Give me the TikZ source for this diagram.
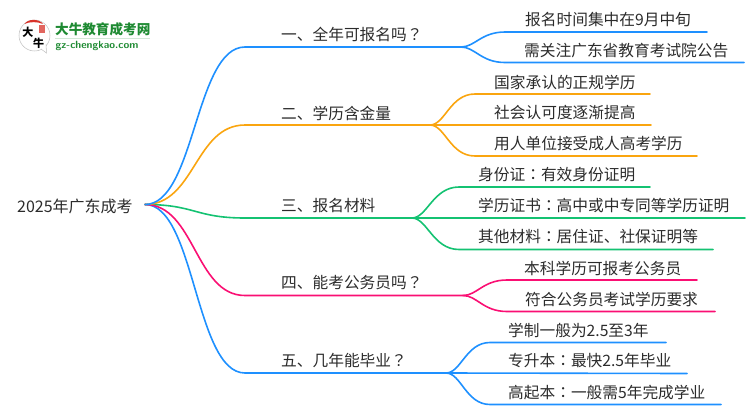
\documentclass[tikz,border=0pt]{standalone}
\usepackage{fontspec}
\setmainfont{Noto Sans CJK SC}
\newfontfamily\punctfont{Noto Sans CJK TC}
\usetikzlibrary{positioning}
\definecolor{mapblue}{HTML}{1E90FF}
\definecolor{maporange}{HTML}{FAA50F}
\definecolor{mapgreen}{HTML}{14C272}
\definecolor{mappink}{HTML}{FA0F73}
\definecolor{maptext}{HTML}{2B2B2B}
\definecolor{logogreen}{HTML}{1E8A32}
\definecolor{logored}{HTML}{D8332A}
% centred full-width marks
\newcommand{\cq}{{\punctfont ？}}
\newcommand{\cc}{{\punctfont ：}}

\begin{document}
\begin{tikzpicture}[
    x=1pt, y=-1pt,
    % Styles
    maptitle/.style={font=\fontsize{15.7pt}{18pt}\selectfont, text=maptext, inner sep=0pt, anchor=west},
    branchlabel/.style={maptitle},
    leaflabel/.style={maptitle},
    logochar/.style={inner sep=0pt, font=\fontsize{11pt}{11pt}\selectfont\bfseries},
    wire/.style={line width=1.6pt, line cap=round},
    bluewire/.style={wire, draw=mapblue},
    orangewire/.style={wire, draw=maporange},
    greenwire/.style={wire, draw=mapgreen},
    pinkwire/.style={wire, draw=mappink},
]
    \useasboundingbox (0,0) rectangle (750,410);

    % Logo
    \fill[white, draw=black!25, line width=0.5pt] (34.5,35.5) circle (15.5);
    \fill[white, draw=black!25, line width=0.5pt] (41,49) -- (46.5,53) -- (46,44);
    \fill[white] (40,47.5) -- (45,48) -- (45,44) -- cycle;
    \fill[logored] (24.5,24) .. controls (28,18.5) and (39,18.5) .. (43,24) .. controls (38,21.5) and (29,21.5) .. (24.5,24) -- cycle;
    \fill[logored!75] (38.5,25) rectangle (44.5,33);
    \node[logochar] (logoda) at (27.8,31.8) {大};
    \node[logochar] (logoniu) at (38.7,43.2) {牛};
    \node[inner sep=0pt, anchor=west, text=logogreen, font=\fontsize{13.6pt}{14pt}\selectfont\bfseries] (logotitle) at (55,29.5) {大牛教育成考网};
    \fill[logogreen!20] (55,38) rectangle (150,39);
    \node[inner sep=0pt, anchor=west, text=logogreen, font=\fontsize{10.5pt}{12pt}\selectfont\sffamily\bfseries] (logourl) at (55.5,45.5) {gz-chengkao.com};

    % Root
    \node[maptitle, font=\fontsize{16pt}{18pt}\selectfont] (root) at (17,206) {2025年广东成考};
    \coordinate (rootout) at (145,204.5);

    % Branch labels
    \node[branchlabel] (one) at (281,34) {一、全年可报名吗\cq};
    \node[branchlabel] (two) at (281,113) {二、学历含金量};
    \node[branchlabel] (three) at (281,206) {三、报名材料};
    \node[branchlabel] (four) at (281,283) {四、能考公务员吗\cq};
    \node[branchlabel] (five) at (281,361) {五、几年能毕业\cq};

    % Branch corners and forks
    \coordinate (onebend) at (245,47);
    \coordinate (onefork) at (461,47);
    \coordinate (twobend) at (245,125);
    \coordinate (twofork) at (430,125);
    \coordinate (threebend) at (245,218);
    \coordinate (threefork) at (412,218);
    \coordinate (fourbend) at (245,295.5);
    \coordinate (fourfork) at (463,295.5);
    \coordinate (fivebend) at (245,373);
    \coordinate (fivefork) at (446,373);

    % Leaf labels
    \node[leaflabel] (onea) at (525,20) {报名时间集中在9月中旬};
    \node[leaflabel] (oneb) at (524,51) {需关注广东省教育考试院公告};
    \node[leaflabel] (twoa) at (494,82) {国家承认的正规学历};
    \node[leaflabel] (twob) at (494,113) {社会认可度逐渐提高};
    \node[leaflabel] (twoc) at (494,144) {用人单位接受成人高考学历};
    \node[leaflabel] (threea) at (478,175) {身份证\cc 有效身份证明};
    \node[leaflabel] (threeb) at (478,206) {学历证书\cc 高中或中专同等学历证明};
    \node[leaflabel] (threec) at (478,237) {其他材料\cc 居住证、社保证明等};
    \node[leaflabel] (foura) at (524,268) {本科学历可报考公务员};
    \node[leaflabel] (fourb) at (525,299) {符合公务员考试学历要求};
    \node[leaflabel] (fivea) at (508,330) {学制一般为2.5至3年};
    \node[leaflabel] (fiveb) at (508,361) {专升本\cc 最快2.5年毕业};
    \node[leaflabel] (fivec) at (508,393) {高起本\cc 一般需5年完成学业};

    % Root to branches
    \draw[greenwire] (rootout) .. controls (195,204.5) and (195,218) .. (threebend) -- (threefork);
    \draw[bluewire] (rootout) .. controls (195,204.5) and (195,373) .. (fivebend) -- (fivefork);
    \draw[pinkwire] (rootout) .. controls (195,204.5) and (195,295.5) .. (fourbend) -- (fourfork);
    \draw[orangewire] (rootout) .. controls (195,204.5) and (195,125) .. (twobend) -- (twofork);
    \draw[bluewire] (rootout) .. controls (195,204.5) and (195,47) .. (onebend) -- (onefork);

    % First group
    \draw[bluewire] (onefork) .. controls (475,47) and (481,32) .. (505,32) -- (707,32);
    \draw[bluewire] (onefork) .. controls (475,47) and (481,62.5) .. (505,62.5) -- (744,62.5);

    % Second group
    \draw[orangewire] (twofork) .. controls (445,125) and (450,94) .. (475,94) -- (650,94);
    \draw[orangewire] (twofork) -- (651,125);
    \draw[orangewire] (twofork) .. controls (445,125) and (450,156) .. (475,156) -- (697,156);

    % Third group
    \draw[greenwire] (threefork) .. controls (427,218) and (433,187) .. (459,187) -- (650,187);
    \draw[greenwire] (threefork) -- (745,218);
    \draw[greenwire] (threefork) .. controls (427,218) and (433,249.5) .. (459,249.5) -- (713,249.5);

    % Fourth group
    \draw[pinkwire] (fourfork) .. controls (477,295.5) and (483,280) .. (507,280) -- (697,280);
    \draw[pinkwire] (fourfork) .. controls (477,295.5) and (483,311.5) .. (507,311.5) -- (715,311.5);

    % Fifth group
    \draw[bluewire] (fivefork) .. controls (461,373) and (466,342.5) .. (490,342.5) -- (666,342.5);
    \draw[bluewire] (fivefork) -- (687,373.5);
    \draw[bluewire] (fivefork) .. controls (461,373) and (466,404.5) .. (490,404.5) -- (721,404.5);

\end{tikzpicture}
\end{document}
